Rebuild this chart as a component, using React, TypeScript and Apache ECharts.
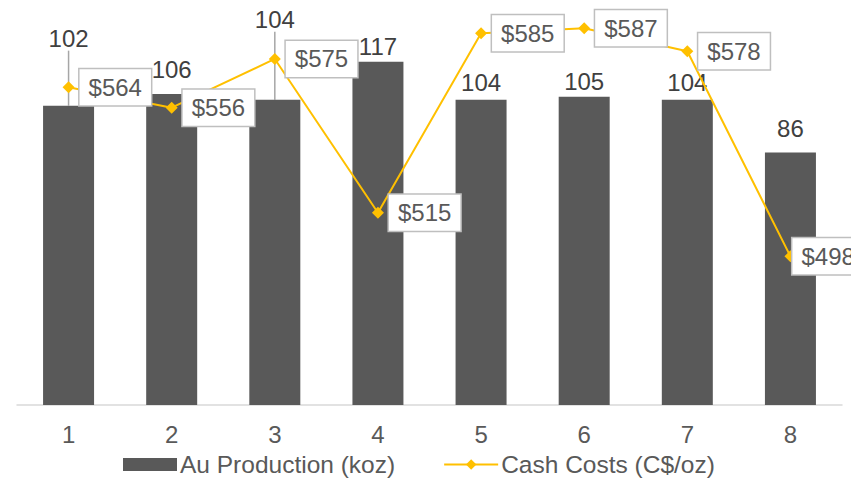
import React, { useEffect, useRef } from "react";
import * as echarts from "echarts";

const categories = ["1", "2", "3", "4", "5", "6", "7", "8"];
const auProduction = [102, 106, 104, 117, 104, 105, 104, 86];
const cashCosts = [564, 556, 575, 515, 585, 587, 578, 498];
const barLabelShift = [-50, -7, -63, 2, 0, 2, 0, -7];
const barLeader = [true, false, true, false, false, false, false, false];
const costLabelShift = [0, 0, 0, 0, 0, 0, 0, -9];

const FONT = "'Liberation Sans', Arial, sans-serif";

export default function App() {
  const ref = useRef<HTMLDivElement>(null);
  useEffect(() => {
    if (!ref.current) return;
    const chart = echarts.init(ref.current, undefined, { renderer: "svg" });
    chart.setOption({
      animation: false,
      textStyle: { fontFamily: FONT },
      grid: { left: 17, right: 9, top: 0, bottom: 74, containLabel: false },
      legend: {
        left: 123,
        top: 452,
        padding: 0,
        itemWidth: 54,
        itemHeight: 13,
        itemGap: 48,
        textStyle: { fontSize: 24.5, color: "#595959", fontFamily: FONT, padding: [0, 0, 0, -2] },
        data: [
          { name: "Au Production (koz)", icon: "rect" },
          { name: "Cash Costs (C$/oz)" },
        ],
      },
      xAxis: {
        type: "category",
        data: categories,
        axisLine: { lineStyle: { color: "#d9d9d9", width: 1.5 } },
        axisTick: { show: false },
        axisLabel: { fontSize: 24, color: "#595959", margin: 17, fontFamily: FONT },
      },
      yAxis: [
        { type: "value", min: 0, max: 138, show: false, splitLine: { show: false } },
        { type: "value", min: 440, max: 598, show: false, splitLine: { show: false } },
      ],
      series: [
        {
          name: "Au Production (koz)",
          type: "bar",
          barWidth: 51,
          itemStyle: { color: "#595959" },
          data: auProduction.map((v, i) => ({
            value: v,
            labelLine: { show: barLeader[i] },
          })),
          label: {
            show: true,
            position: "top",
            distance: 5,
            fontSize: 24,
            color: "#404040",
            fontFamily: FONT,
          },
          labelLayout: (p: any) => ({ dy: barLabelShift[p.dataIndex] }),
          labelLine: { show: true, lineStyle: { color: "#a6a6a6", width: 1.5 } },
          z: 2,
        },
        {
          name: "Cash Costs (C$/oz)",
          type: "line",
          yAxisIndex: 1,
          data: cashCosts.map((v, i) => ({
            value: v,
            label: { offset: [costLabelShift[i], 0] },
          })),
          symbol: "diamond",
          symbolSize: 12,
          lineStyle: { color: "#FFC000", width: 2 },
          itemStyle: { color: "#FFC000" },
          label: {
            show: true,
            position: "right",
            distance: 5,
            formatter: (p: any) => "$" + p.value,
            fontSize: 24,
            color: "#595959",
            fontFamily: FONT,
            backgroundColor: "#ffffff",
            borderColor: "#bfbfbf",
            borderWidth: 1.5,
            padding: [6, 9, 6, 9],
          },
          z: 3,
        },
      ],
    });
    return () => chart.dispose();
  }, []);
  return (
    <div
      ref={ref}
      style={{ position: "fixed", left: 0, top: 0, width: 851, height: 479, background: "#fff" }}
    />
  );
}
